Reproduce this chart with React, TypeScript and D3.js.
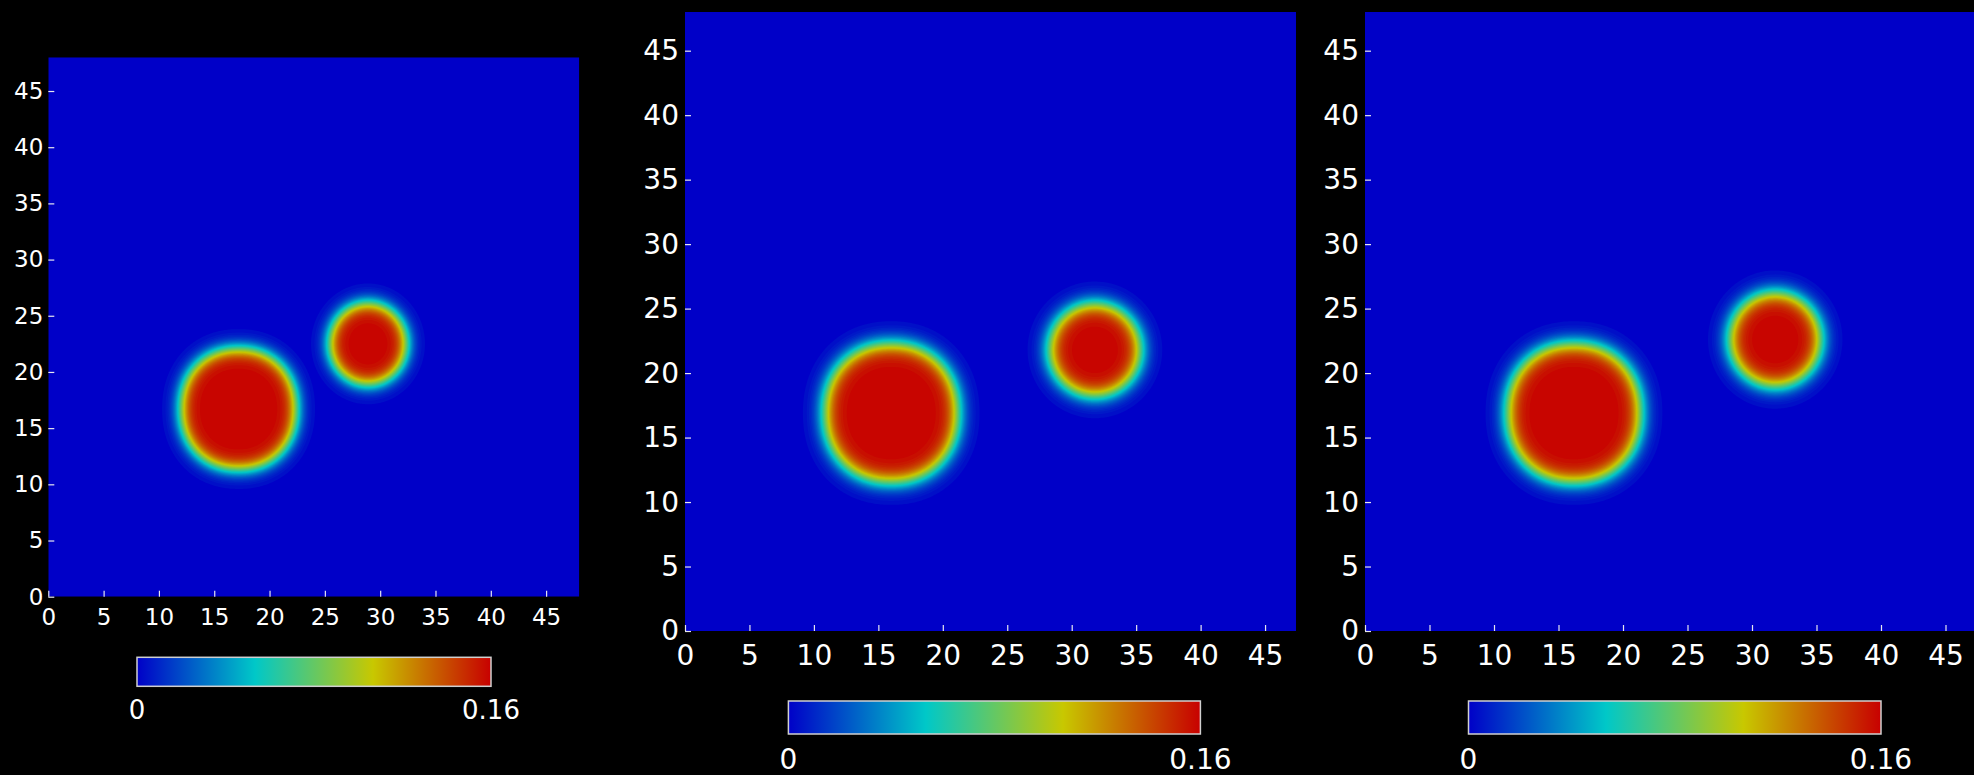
import React, { useEffect, useRef } from "react";
import * as d3 from "d3";

const W = 1974;
const H = 775;

// axis ticks and colour-bar range
const xTicks = [0, 5, 10, 15, 20, 25, 30, 35, 40, 45];
const yTicks = [0, 5, 10, 15, 20, 25, 30, 35, 40, 45];
const valueMin = 0;
const valueMax = 0.16;
const colorbarLabels = ["0", "0.16"];
const colorStops = ["#0000c8", "#00c8c8", "#c8c800", "#c80000"];

// droplets of each snapshot: centre (cx, cy), semi-axes (rx, ry), shape exponent p
const dropsA = [
  { cx: 17.2, cy: 16.7, rx: 5.2, ry: 5.35, p: 2.15 },
  { cx: 28.9, cy: 22.5, rx: 3.45, ry: 3.6, p: 2 },
];
const dropsB = [
  { cx: 16.0, cy: 16.9, rx: 5.15, ry: 5.35, p: 2.15 },
  { cx: 31.8, cy: 21.8, rx: 3.5, ry: 3.55, p: 2 },
];
const dropsC = [
  { cx: 16.2, cy: 16.9, rx: 5.15, ry: 5.35, p: 2.15 },
  { cx: 31.8, cy: 22.6, rx: 3.5, ry: 3.6, p: 2 },
];
const interfaceWidth = 0.85;

type Drop = { cx: number; cy: number; rx: number; ry: number; p: number };

const panels = [
  {
    drops: dropsA, xMax: 48, yMax: 48,
    left: 48.3, top: 57.3, width: 531, height: 539.4,
    font: 23, xPad: 12, yPad: 5,
    cb: { x: 137, y: 657.3, w: 354, h: 29, font: 26, base: 719 },
  },
  {
    drops: dropsB, xMax: 47.4, yMax: 48,
    left: 685, top: 12, width: 611, height: 619,
    font: 28, xPad: 14, yPad: 6,
    cb: { x: 788.4, y: 701, w: 412, h: 33, font: 28, base: 769 },
  },
  {
    drops: dropsC, xMax: 48, yMax: 48,
    left: 1365, top: 12, width: 619.2, height: 619,
    font: 28, xPad: 14, yPad: 6,
    cb: { x: 1468.5, y: 701, w: 412.5, h: 33, font: 28, base: 769 },
  },
];

const color = d3
  .scaleLinear<string>()
  .domain([valueMin, valueMax / 3, (2 * valueMax) / 3, valueMax])
  .range(colorStops)
  .interpolate(d3.interpolateRgb);

function fieldValue(drops: Drop[], x: number, y: number) {
  let v = 0;
  for (const d of drops) {
    const ux = Math.abs(x - d.cx) / d.rx;
    const uy = Math.abs(y - d.cy) / d.ry;
    const r = Math.pow(Math.pow(ux, d.p) + Math.pow(uy, d.p), 1 / d.p);
    const dist = (r - 1) * ((d.rx + d.ry) / 2);
    const val = (valueMax / 2) * (1 - Math.tanh(dist / interfaceWidth));
    if (val > v) v = val;
  }
  return v;
}

export default function App() {
  const ref = useRef<SVGSVGElement>(null);

  useEffect(() => {
    const svg = d3.select(ref.current);
    svg.selectAll("*").remove();
    svg.append("rect").attr("width", W).attr("height", H).attr("fill", "#000");

    const defs = svg.append("defs");
    const grad = defs
      .append("linearGradient")
      .attr("id", "cbar")
      .attr("x1", "0%")
      .attr("x2", "100%");
    colorStops.forEach((c, i) =>
      grad.append("stop").attr("offset", `${(i / (colorStops.length - 1)) * 100}%`).attr("stop-color", c)
    );

    const step = 0.125;
    const nLevels = 60;
    const thresholds = d3.range(1, nLevels).map((k) => (k * valueMax) / nLevels);
    const fontFamily = "'DejaVu Sans', Verdana, sans-serif";

    panels.forEach((pn, idx) => {
      const x = d3.scaleLinear().domain([0, pn.xMax]).range([pn.left, pn.left + pn.width]);
      const y = d3.scaleLinear().domain([0, pn.yMax]).range([pn.top + pn.height, pn.top]);

      const clipId = `clip${idx}`;
      defs
        .append("clipPath")
        .attr("id", clipId)
        .append("rect")
        .attr("x", pn.left)
        .attr("y", pn.top)
        .attr("width", pn.width)
        .attr("height", pn.height);

      const g = svg.append("g").attr("clip-path", `url(#${clipId})`);
      g.append("rect")
        .attr("x", pn.left)
        .attr("y", pn.top)
        .attr("width", pn.width)
        .attr("height", pn.height)
        .attr("fill", color(valueMin));

      const nx = Math.ceil(pn.xMax / step);
      const ny = Math.ceil(pn.yMax / step);
      const values = new Float64Array(nx * ny);
      for (let j = 0; j < ny; j++) {
        const yy = pn.yMax - (j + 0.5) * step;
        for (let i = 0; i < nx; i++) {
          const xx = (i + 0.5) * step;
          values[i + j * nx] = fieldValue(pn.drops, xx, yy);
        }
      }
      const contours = d3.contours().size([nx, ny]).thresholds(thresholds)(values as any);
      const proj = d3.geoTransform({
        point(px: number, py: number) {
          (this as any).stream.point(x(px * step), y(pn.yMax - py * step));
        },
      });
      const path = d3.geoPath(proj);
      g.selectAll("path.band")
        .data(contours)
        .join("path")
        .attr("class", "band")
        .attr("d", (c: any) => path(c) as string)
        .attr("fill", (c: any) => color(Math.min(valueMax, c.value + valueMax / nLevels / 2)));

      const xAxis = d3.axisBottom(x).tickValues(xTicks).tickSize(-6).tickPadding(pn.xPad).tickFormat(d3.format("d") as any);
      const gx = svg.append("g").attr("transform", `translate(0,${pn.top + pn.height})`).call(xAxis);
      const yAxis = d3.axisLeft(y).tickValues(yTicks).tickSize(-6).tickPadding(pn.yPad).tickFormat(d3.format("d") as any);
      const gy = svg.append("g").attr("transform", `translate(${pn.left},0)`).call(yAxis);

      [gx, gy].forEach((ga) => {
        ga.select(".domain").remove();
        ga.attr("font-size", null).attr("font-family", null);
        ga.selectAll(".tick line").attr("stroke", "#e6e6f0").attr("stroke-width", 1.2);
        ga.selectAll(".tick text")
          .attr("fill", "#ffffff")
          .attr("font-family", fontFamily)
          .attr("font-size", pn.font);
      });

      // colour bar
      const cb = pn.cb;
      const cbScale = d3.scaleLinear().domain([valueMin, valueMax]).range([cb.x, cb.x + cb.w]);
      svg.append("rect")
        .attr("x", cb.x)
        .attr("y", cb.y)
        .attr("width", cb.w)
        .attr("height", cb.h)
        .attr("fill", "url(#cbar)")
        .attr("stroke", "#d0d0d0")
        .attr("stroke-width", 1.5);
      svg.selectAll(`text.cb${idx}`)
        .data([valueMin, valueMax])
        .join("text")
        .attr("class", `cb${idx}`)
        .attr("x", (d) => cbScale(d))
        .attr("y", cb.base)
        .attr("text-anchor", "middle")
        .attr("fill", "#ffffff")
        .attr("font-family", fontFamily)
        .attr("font-size", cb.font)
        .text((_, i) => colorbarLabels[i]);
    });
  }, []);

  return (
    <svg
      ref={ref}
      width={W}
      height={H}
      style={{ position: "absolute", left: 0, top: 0, display: "block" }}
    />
  );
}
